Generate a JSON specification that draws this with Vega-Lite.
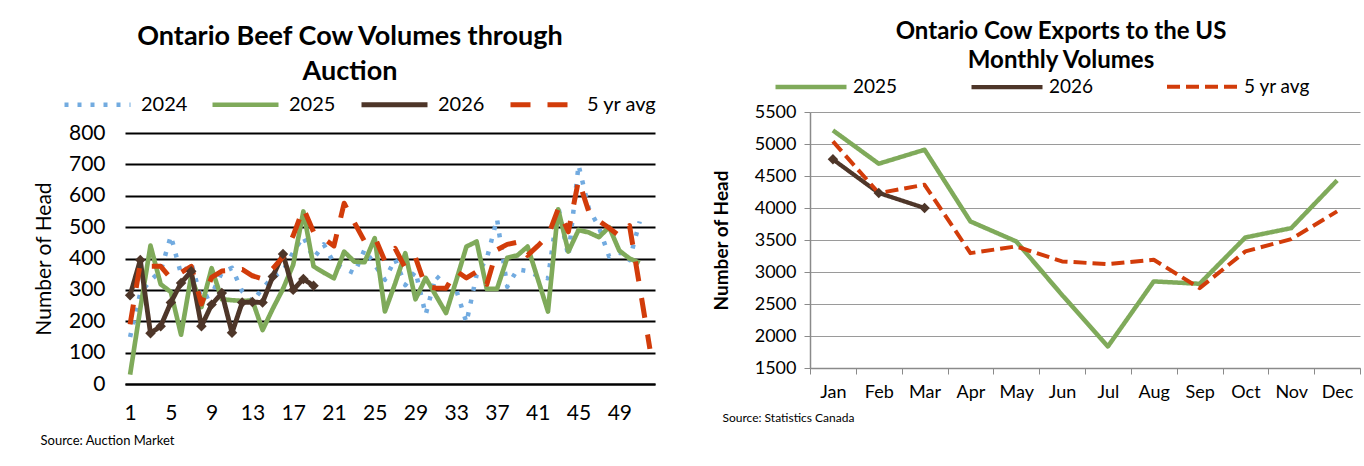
{
  "$schema": "https://vega.github.io/schema/vega-lite/v6.json",
  "background": "white",
  "padding": {"left": 33, "top": 20, "right": 2, "bottom": 2},
  "config": {
    "font": "Lato",
    "view": {"stroke": null},
    "axis": {"labelColor": "black", "titleColor": "black", "labelFont": "Lato", "titleFont": "Lato"},
    "legend": {"labelColor": "black", "labelFont": "Lato"},
    "title": {"color": "black", "font": "Lato"}
  },
  "datasets": {
    "weekly": [
      {"week": 1, "series": "2024", "value": 150}, {"week": 2, "series": "2024", "value": 290}, {"week": 3, "series": "2024", "value": 330}, {"week": 4, "series": "2024", "value": 360},
      {"week": 5, "series": "2024", "value": 472}, {"week": 6, "series": "2024", "value": 350}, {"week": 7, "series": "2024", "value": 385}, {"week": 8, "series": "2024", "value": 270},
      {"week": 9, "series": "2024", "value": 285}, {"week": 10, "series": "2024", "value": 355}, {"week": 11, "series": "2024", "value": 370}, {"week": 12, "series": "2024", "value": 295},
      {"week": 13, "series": "2024", "value": 262}, {"week": 14, "series": "2024", "value": 305}, {"week": 15, "series": "2024", "value": 340}, {"week": 16, "series": "2024", "value": 360},
      {"week": 17, "series": "2024", "value": 420}, {"week": 18, "series": "2024", "value": 470}, {"week": 19, "series": "2024", "value": 400}, {"week": 20, "series": "2024", "value": 445},
      {"week": 21, "series": "2024", "value": 385}, {"week": 22, "series": "2024", "value": 368}, {"week": 23, "series": "2024", "value": 353}, {"week": 24, "series": "2024", "value": 428},
      {"week": 25, "series": "2024", "value": 380}, {"week": 26, "series": "2024", "value": 332}, {"week": 27, "series": "2024", "value": 398}, {"week": 28, "series": "2024", "value": 315},
      {"week": 29, "series": "2024", "value": 359}, {"week": 30, "series": "2024", "value": 221}, {"week": 31, "series": "2024", "value": 345}, {"week": 32, "series": "2024", "value": 315},
      {"week": 33, "series": "2024", "value": 300}, {"week": 34, "series": "2024", "value": 196}, {"week": 35, "series": "2024", "value": 348}, {"week": 36, "series": "2024", "value": 400},
      {"week": 37, "series": "2024", "value": 526}, {"week": 38, "series": "2024", "value": 310}, {"week": 39, "series": "2024", "value": 365}, {"week": 40, "series": "2024", "value": 360},
      {"week": 41, "series": "2024", "value": 345}, {"week": 42, "series": "2024", "value": 337}, {"week": 43, "series": "2024", "value": 566}, {"week": 44, "series": "2024", "value": 406},
      {"week": 45, "series": "2024", "value": 698}, {"week": 46, "series": "2024", "value": 560}, {"week": 47, "series": "2024", "value": 500}, {"week": 48, "series": "2024", "value": 406},
      {"week": 49, "series": "2024", "value": 420}, {"week": 50, "series": "2024", "value": 395}, {"week": 51, "series": "2024", "value": 518},

      {"week": 1, "series": "2025", "value": 30}, {"week": 2, "series": "2025", "value": 240}, {"week": 3, "series": "2025", "value": 441}, {"week": 4, "series": "2025", "value": 318},
      {"week": 5, "series": "2025", "value": 293}, {"week": 6, "series": "2025", "value": 157}, {"week": 7, "series": "2025", "value": 345}, {"week": 8, "series": "2025", "value": 245},
      {"week": 9, "series": "2025", "value": 369}, {"week": 10, "series": "2025", "value": 270}, {"week": 11, "series": "2025", "value": 267}, {"week": 12, "series": "2025", "value": 265},
      {"week": 13, "series": "2025", "value": 266}, {"week": 14, "series": "2025", "value": 172}, {"week": 15, "series": "2025", "value": 240}, {"week": 16, "series": "2025", "value": 303},
      {"week": 17, "series": "2025", "value": 380}, {"week": 18, "series": "2025", "value": 550}, {"week": 19, "series": "2025", "value": 375}, {"week": 20, "series": "2025", "value": 355},
      {"week": 21, "series": "2025", "value": 337}, {"week": 22, "series": "2025", "value": 422}, {"week": 23, "series": "2025", "value": 390}, {"week": 24, "series": "2025", "value": 388},
      {"week": 25, "series": "2025", "value": 465}, {"week": 26, "series": "2025", "value": 231}, {"week": 27, "series": "2025", "value": 320}, {"week": 28, "series": "2025", "value": 417},
      {"week": 29, "series": "2025", "value": 270}, {"week": 30, "series": "2025", "value": 338}, {"week": 31, "series": "2025", "value": 282}, {"week": 32, "series": "2025", "value": 226},
      {"week": 33, "series": "2025", "value": 330}, {"week": 34, "series": "2025", "value": 438}, {"week": 35, "series": "2025", "value": 454}, {"week": 36, "series": "2025", "value": 303},
      {"week": 37, "series": "2025", "value": 303}, {"week": 38, "series": "2025", "value": 402}, {"week": 39, "series": "2025", "value": 410}, {"week": 40, "series": "2025", "value": 438},
      {"week": 41, "series": "2025", "value": 335}, {"week": 42, "series": "2025", "value": 231}, {"week": 43, "series": "2025", "value": 557}, {"week": 44, "series": "2025", "value": 422},
      {"week": 45, "series": "2025", "value": 491}, {"week": 46, "series": "2025", "value": 483}, {"week": 47, "series": "2025", "value": 468}, {"week": 48, "series": "2025", "value": 500},
      {"week": 49, "series": "2025", "value": 425}, {"week": 50, "series": "2025", "value": 400}, {"week": 51, "series": "2025", "value": 386},

      {"week": 1, "series": "2026", "value": 283}, {"week": 2, "series": "2026", "value": 395}, {"week": 3, "series": "2026", "value": 162}, {"week": 4, "series": "2026", "value": 184},
      {"week": 5, "series": "2026", "value": 260}, {"week": 6, "series": "2026", "value": 322}, {"week": 7, "series": "2026", "value": 359}, {"week": 8, "series": "2026", "value": 184},
      {"week": 9, "series": "2026", "value": 253}, {"week": 10, "series": "2026", "value": 290}, {"week": 11, "series": "2026", "value": 163}, {"week": 12, "series": "2026", "value": 260},
      {"week": 13, "series": "2026", "value": 261}, {"week": 14, "series": "2026", "value": 260}, {"week": 15, "series": "2026", "value": 343}, {"week": 16, "series": "2026", "value": 414},
      {"week": 17, "series": "2026", "value": 300}, {"week": 18, "series": "2026", "value": 335}, {"week": 19, "series": "2026", "value": 313},

      {"week": 1, "series": "5 yr avg", "value": 190}, {"week": 2, "series": "5 yr avg", "value": 385}, {"week": 3, "series": "5 yr avg", "value": 375}, {"week": 4, "series": "5 yr avg", "value": 375},
      {"week": 5, "series": "5 yr avg", "value": 337}, {"week": 6, "series": "5 yr avg", "value": 355}, {"week": 7, "series": "5 yr avg", "value": 375}, {"week": 8, "series": "5 yr avg", "value": 255},
      {"week": 9, "series": "5 yr avg", "value": 340}, {"week": 10, "series": "5 yr avg", "value": 360}, {"week": 11, "series": "5 yr avg", "value": 362}, {"week": 12, "series": "5 yr avg", "value": 365},
      {"week": 13, "series": "5 yr avg", "value": 345}, {"week": 14, "series": "5 yr avg", "value": 335}, {"week": 15, "series": "5 yr avg", "value": 368}, {"week": 16, "series": "5 yr avg", "value": 405},
      {"week": 17, "series": "5 yr avg", "value": 473}, {"week": 18, "series": "5 yr avg", "value": 560}, {"week": 19, "series": "5 yr avg", "value": 485}, {"week": 20, "series": "5 yr avg", "value": 463},
      {"week": 21, "series": "5 yr avg", "value": 440}, {"week": 22, "series": "5 yr avg", "value": 576}, {"week": 23, "series": "5 yr avg", "value": 515}, {"week": 24, "series": "5 yr avg", "value": 455},
      {"week": 25, "series": "5 yr avg", "value": 468}, {"week": 26, "series": "5 yr avg", "value": 392}, {"week": 27, "series": "5 yr avg", "value": 432}, {"week": 28, "series": "5 yr avg", "value": 370},
      {"week": 29, "series": "5 yr avg", "value": 403}, {"week": 30, "series": "5 yr avg", "value": 310}, {"week": 31, "series": "5 yr avg", "value": 306}, {"week": 32, "series": "5 yr avg", "value": 305},
      {"week": 33, "series": "5 yr avg", "value": 360}, {"week": 34, "series": "5 yr avg", "value": 338}, {"week": 35, "series": "5 yr avg", "value": 358}, {"week": 36, "series": "5 yr avg", "value": 318},
      {"week": 37, "series": "5 yr avg", "value": 428}, {"week": 38, "series": "5 yr avg", "value": 445}, {"week": 39, "series": "5 yr avg", "value": 452}, {"week": 40, "series": "5 yr avg", "value": 410},
      {"week": 41, "series": "5 yr avg", "value": 440}, {"week": 42, "series": "5 yr avg", "value": 472}, {"week": 43, "series": "5 yr avg", "value": 558}, {"week": 44, "series": "5 yr avg", "value": 485},
      {"week": 45, "series": "5 yr avg", "value": 650}, {"week": 46, "series": "5 yr avg", "value": 550}, {"week": 47, "series": "5 yr avg", "value": 520}, {"week": 48, "series": "5 yr avg", "value": 497},
      {"week": 49, "series": "5 yr avg", "value": 472}, {"week": 50, "series": "5 yr avg", "value": 505}, {"week": 51, "series": "5 yr avg", "value": 310}, {"week": 52, "series": "5 yr avg", "value": 112}
    ],
    "monthly": [
      {"month": "Jan", "series": "2025", "value": 5213}, {"month": "Feb", "series": "2025", "value": 4692}, {"month": "Mar", "series": "2025", "value": 4910},
      {"month": "Apr", "series": "2025", "value": 3790}, {"month": "May", "series": "2025", "value": 3478}, {"month": "Jun", "series": "2025", "value": 2640},
      {"month": "Jul", "series": "2025", "value": 1837}, {"month": "Aug", "series": "2025", "value": 2853}, {"month": "Sep", "series": "2025", "value": 2816},
      {"month": "Oct", "series": "2025", "value": 3540}, {"month": "Nov", "series": "2025", "value": 3686}, {"month": "Dec", "series": "2025", "value": 4431},
      {"month": "Jan", "series": "2026", "value": 4760}, {"month": "Feb", "series": "2026", "value": 4235}, {"month": "Mar", "series": "2026", "value": 4000},
      {"month": "Jan", "series": "5 yr avg", "value": 5041}, {"month": "Feb", "series": "5 yr avg", "value": 4233}, {"month": "Mar", "series": "5 yr avg", "value": 4363},
      {"month": "Apr", "series": "5 yr avg", "value": 3295}, {"month": "May", "series": "5 yr avg", "value": 3400}, {"month": "Jun", "series": "5 yr avg", "value": 3165},
      {"month": "Jul", "series": "5 yr avg", "value": 3123}, {"month": "Aug", "series": "5 yr avg", "value": 3191}, {"month": "Sep", "series": "5 yr avg", "value": 2748},
      {"month": "Oct", "series": "5 yr avg", "value": 3322}, {"month": "Nov", "series": "5 yr avg", "value": 3514}, {"month": "Dec", "series": "5 yr avg", "value": 3947}
    ]
  },
  "spacing": 55,
  "hconcat": [
    {
      "width": 530,
      "height": 272,
      "data": {"name": "weekly"},
      "title": {"text": ["Ontario Beef Cow Volumes through", "Auction"], "fontSize": 27, "fontWeight": "bold", "lineHeight": 35, "anchor": "middle", "offset": 6, "dy": 23, "dx": -40},
      "encoding": {
        "x": {"field": "week", "type": "quantitative", "scale": {"domain": [0.5, 52.5], "nice": false, "zero": false},
          "axis": {"values": [1, 5, 9, 13, 17, 21, 25, 29, 33, 37, 41, 45, 49], "grid": false, "ticks": false, "tickSize": 0, "domain": true, "domainColor": "black", "domainWidth": 2,
            "labelFontSize": 21, "labelPadding": 18, "labelFlush": false, "labelOverlap": false,
            "title": "Source: Auction Market", "titleFontSize": 13, "titleFontWeight": "normal", "titleX": -85, "titleY": 60, "titleAlign": "left", "titleBaseline": "alphabetic", "titleAnchor": "start"}},
        "y": {"field": "value", "type": "quantitative", "scale": {"domain": [0, 800], "nice": false, "range": [272, 21]},
          "axis": {"values": [0, 100, 200, 300, 400, 500, 600, 700, 800], "tickCount": 9, "grid": true, "gridColor": "black", "gridWidth": 2, "domain": false, "ticks": false, "tickSize": 0, "labelOverlap": false,
            "labelFontSize": 21, "labelPadding": 20, "title": "Number of Head", "titleFontSize": 21, "titleFontWeight": "normal", "titlePadding": 14}}
      },
      "layer": [
        {
          "mark": {"type": "line", "strokeJoin": "round"},
          "encoding": {
            "color": {"field": "series", "type": "nominal", "scale": {"domain": ["2024", "2025", "2026", "5 yr avg"], "range": ["#72ABE0", "#7FAA5A", "#4E3629", "#D23C0A"]},
              "legend": {"title": null, "orient": "none", "legendX": -63, "legendY": -43, "direction": "horizontal", "symbolType": "stroke", "symbolSize": 4356, "labelFontSize": 20, "labelOffset": 8, "columnPadding": 15}},
            "strokeDash": {"field": "series", "type": "nominal", "scale": {"domain": ["2024", "2025", "2026", "5 yr avg"], "range": [[4, 9], [1, 0], [1, 0], [20, 17]]},
              "legend": {"title": null, "orient": "none", "legendX": -63, "legendY": -43, "direction": "horizontal", "symbolType": "stroke", "symbolSize": 4356, "labelFontSize": 20, "labelOffset": 8, "columnPadding": 15}},
            "strokeWidth": {"field": "series", "type": "nominal", "scale": {"domain": ["2024", "2025", "2026", "5 yr avg"], "range": [4.5, 5, 4, 5]},
              "legend": {"title": null, "orient": "none", "legendX": -63, "legendY": -43, "direction": "horizontal", "symbolType": "stroke", "symbolSize": 4356, "labelFontSize": 20, "labelOffset": 8, "columnPadding": 15}}
          }
        },
        {
          "transform": [{"filter": "datum.series === '2026'"}],
          "mark": {"type": "point", "shape": "diamond", "filled": true, "size": 110, "color": "#4E3629", "opacity": 1},
          "encoding": {}
        }
      ]
    },
    {
      "width": 550,
      "height": 256,
      "data": {"name": "monthly"},
      "title": {"text": ["Ontario Cow Exports to the US", "Monthly Volumes"], "fontSize": 24, "fontWeight": "bold", "lineHeight": 29, "anchor": "middle", "offset": 6, "dy": 30, "dx": -24},
      "encoding": {
        "x": {"field": "month", "type": "ordinal", "sort": ["Jan", "Feb", "Mar", "Apr", "May", "Jun", "Jul", "Aug", "Sep", "Oct", "Nov", "Dec"],
          "scale": {"type": "band", "paddingInner": 0, "paddingOuter": 0}, "bandPosition": 0.5,
          "axis": {"tickBand": "extent", "ticks": true, "tickSize": 6, "tickColor": "#8A8A8A", "domainColor": "#8A8A8A", "domainWidth": 1.5, "labelAngle": 0, "labelFontSize": 18, "labelPadding": 9,
            "title": "Source: Statistics Canada", "titleFontSize": 12, "titleFontWeight": "normal", "titleX": -88, "titleY": 53, "titleAlign": "left", "titleBaseline": "alphabetic", "titleAnchor": "start"}},
        "y": {"field": "value", "type": "quantitative", "scale": {"domain": [1500, 5500], "nice": false, "zero": false},
          "axis": {"values": [1500, 2000, 2500, 3000, 3500, 4000, 4500, 5000, 5500], "tickCount": 9, "format": "d", "labelOverlap": false, "grid": true, "gridColor": "#9A9A9A", "gridWidth": 1, "domain": true, "domainColor": "#8A8A8A", "domainWidth": 1.5,
            "ticks": true, "tickSize": 6, "tickColor": "#8A8A8A", "labelFontSize": 18, "labelPadding": 8, "title": "Number of Head", "titleFontSize": 19, "titleFontWeight": "bold", "titlePadding": 23}}
      },
      "layer": [
        {
          "mark": {"type": "line", "strokeJoin": "round"},
          "encoding": {
            "color": {"field": "series", "type": "nominal", "scale": {"domain": ["2025", "2026", "5 yr avg"], "range": ["#7FAA5A", "#4E3629", "#D23C0A"]},
              "legend": {"title": null, "orient": "none", "legendX": -37, "legendY": -63, "direction": "horizontal", "symbolType": "stroke", "symbolSize": 5041, "labelFontSize": 19, "labelOffset": 4, "columnPadding": 65}},
            "strokeDash": {"field": "series", "type": "nominal", "scale": {"domain": ["2025", "2026", "5 yr avg"], "range": [[1, 0], [1, 0], [13, 6]]},
              "legend": {"title": null, "orient": "none", "legendX": -37, "legendY": -63, "direction": "horizontal", "symbolType": "stroke", "symbolSize": 5041, "labelFontSize": 19, "labelOffset": 4, "columnPadding": 65}},
            "strokeWidth": {"field": "series", "type": "nominal", "scale": {"domain": ["2025", "2026", "5 yr avg"], "range": [4.5, 4, 4.5]},
              "legend": {"title": null, "orient": "none", "legendX": -37, "legendY": -63, "direction": "horizontal", "symbolType": "stroke", "symbolSize": 5041, "labelFontSize": 19, "labelOffset": 4, "columnPadding": 65}}
          }
        },
        {
          "transform": [{"filter": "datum.series === '2026'"}],
          "mark": {"type": "point", "shape": "diamond", "filled": true, "size": 110, "color": "#4E3629", "opacity": 1},
          "encoding": {}
        }
      ]
    }
  ],
  "resolve": {"scale": {"color": "independent", "strokeDash": "independent", "strokeWidth": "independent", "x": "independent", "y": "independent"}}
}
